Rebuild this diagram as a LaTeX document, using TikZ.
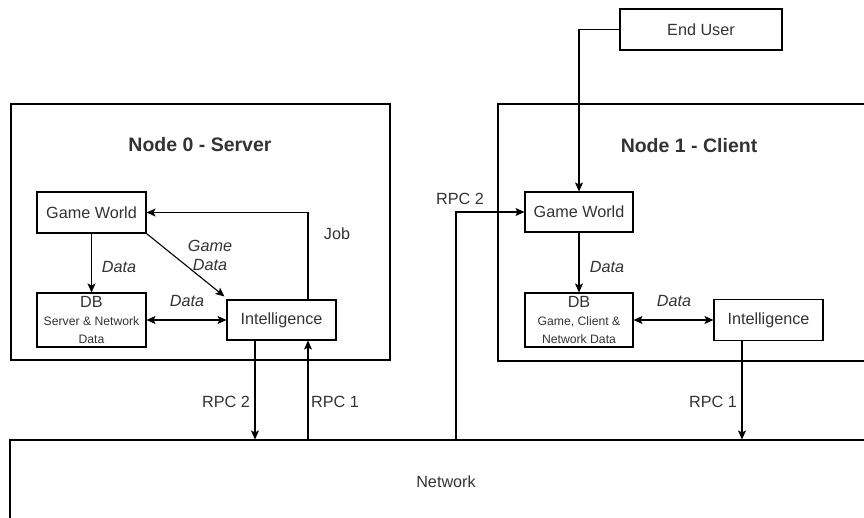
\documentclass[tikz,border=0pt]{standalone}
\usepackage{fontspec}
\setmainfont{Liberation Sans}
\usetikzlibrary{arrows.meta,calc}
\definecolor{ink}{HTML}{333333}

\begin{document}
\begin{tikzpicture}[x=1pt,y=-1pt,
  every node/.style={text=ink, font=\fontsize{16.2}{19}\selectfont},
  frame/.style={draw=black, line width=1.1pt, inner sep=0pt},
  block/.style={frame, minimum width=109pt, align=center},
  dbtext/.style={font=\fontsize{12.2}{18}\selectfont},
  conn/.style={draw=black, line width=1.1pt},
  tip/.tip={Stealth[length=9pt,width=8pt,inset=2pt]},
  arr/.style={conn, -tip},
  biarr/.style={conn, tip-tip},
  lbl/.style={inner sep=0pt},
  ital/.style={lbl, align=center, font=\fontsize{16.2}{19}\selectfont\itshape},
  heading/.style={inner sep=0pt, font=\fontsize{19.5}{23}\selectfont\bfseries}
]
\clip (0,0) rectangle (864,517);

% containers
\node[frame, minimum width=379pt, minimum height=256pt] (srv) at (200.5,232) {};
\node[frame, minimum width=412pt, minimum height=257pt] (cli) at (704,232.5) {};
\node[frame, minimum width=900pt, minimum height=130pt] (net) at (460,505) {};
\node[lbl] (netlbl) at (446,482) {Network};

\node[heading] (srvtitle) at (200,145) {Node 0 - Server};
\node[heading] (clititle) at (689,146) {Node 1 - Client};

% server side
\node[block, minimum height=41pt] (gw0) at (91.5,212.5) {Game World};
\node[block, minimum height=54pt, dbtext] (db0) at (91.5,320)
  {{\fontsize{16.2}{18}\selectfont DB}\\Server \& Network\\Data};
\node[block, minimum height=40pt] (int0) at (281.5,320) {Intelligence};

% client side
\node[block, minimum width=162pt, minimum height=41pt] (eu) at (701,29.5) {End User};
\node[block, minimum width=108pt, minimum height=40pt] (gw1) at (579,212) {Game World};
\node[block, minimum width=108pt, minimum height=54pt, dbtext] (db1) at (579,320)
  {{\fontsize{16.2}{18}\selectfont DB}\\Game, Client \&\\Network Data};
\node[block, minimum height=41pt] (int1) at (768.5,320) {Intelligence};

% server connectors
\draw[arr] (gw0) -- (db0);
\node[ital] (d0a) at (119,267) {Data};
\draw[arr] (gw0.south east) -- ($(int0.north west)+(-2,-3)$);
\node[ital] (gd0) at (210,255) {Game\\Data};
\draw[arr] ([xshift=26.5pt]int0.north) |- (gw0.east);
\node[lbl] (job) at (337,234) {Job};
\draw[biarr] (db0) -- (int0);
\node[ital] (d0b) at (187,301) {Data};
\draw[arr] ([xshift=-26.5pt]int0.south) -- ([xshift=-26.5pt]int0.south |- net.north);
\draw[arr] ([xshift=26.5pt]int0.south |- net.north) -- ([xshift=26.5pt]int0.south);
\node[lbl, anchor=east] (rpc2s) at (250,402) {RPC 2};
\node[lbl, anchor=west] (rpc1s) at (311,402) {RPC 1};

% client connectors
\draw[arr] (eu.west) -| (gw1.north);
\coordinate (rpcx) at (456,0);
\draw[arr] (net.north -| rpcx) |- (gw1.west);
\node[lbl] (rpc2c) at (460,199) {RPC 2};
\draw[arr] (gw1) -- (db1);
\node[ital] (d1a) at (607,267) {Data};
\draw[biarr] (db1) -- (int1);
\node[ital] (d1b) at (674,301) {Data};
\draw[arr] ([xshift=-26.5pt]int1.south) -- ([xshift=-26.5pt]int1.south |- net.north);
\node[lbl, anchor=east] (rpc1c) at (737,402) {RPC 1};
\end{tikzpicture}
\end{document}
